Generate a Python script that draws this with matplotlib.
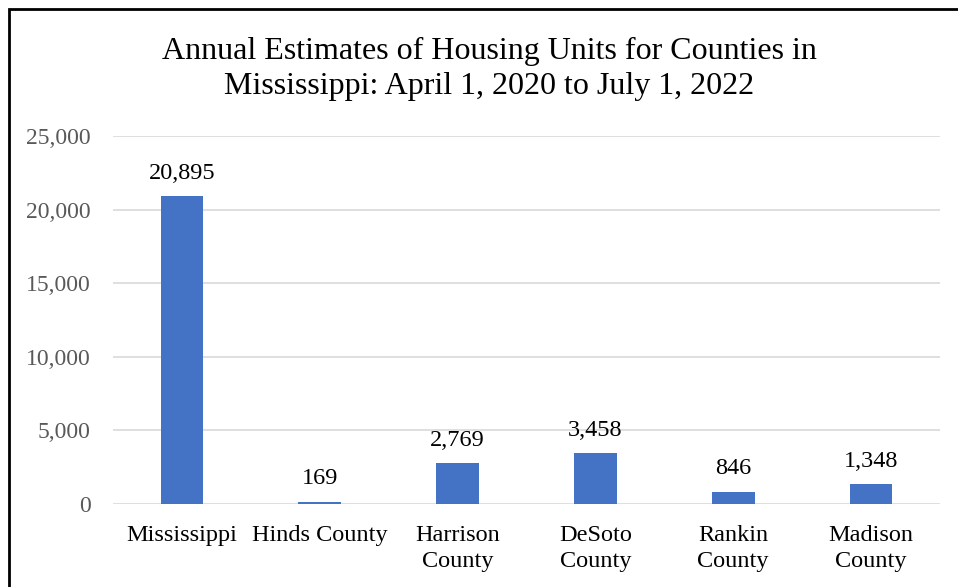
import matplotlib.pyplot as plt
from matplotlib.patches import Rectangle
from matplotlib.ticker import FuncFormatter

# ── Data ──────────────────────────────────────────────────────────────────
categories = ["Mississippi", "Hinds County", "Harrison\nCounty",
              "DeSoto\nCounty", "Rankin\nCounty", "Madison\nCounty"]
units = [20895, 169, 2769, 3458, 846, 1348]
y_ticks = [0, 5000, 10000, 15000, 20000, 25000]

plt.rcParams['font.family'] = ['Liberation Serif', 'DejaVu Serif']

# ── Plot ──────────────────────────────────────────────────────────────────
fig = plt.figure(figsize=(9.58, 5.87), dpi=100)
ax = fig.add_axes([113 / 958, 1 - 504 / 587, 827 / 958, 368 / 587])

x = range(len(categories))
bars = ax.bar(x, units, width=0.31, color='#4472C4', zorder=3)

for b, v in zip(bars, units):
    ax.annotate(f"{v:,}", xy=(b.get_x() + b.get_width() / 2, v),
                xytext=(0, 9), textcoords='offset points',
                ha='center', va='bottom', fontsize=17.5, color='black')

ax.set_xlim(-0.5, len(categories) - 0.5)
ax.set_ylim(0, 25000)
ax.set_yticks(y_ticks)
ax.yaxis.set_major_formatter(FuncFormatter(lambda v, p: f"{int(v):,}"))
ax.set_xticks(list(x))
ax.set_xticklabels(categories, fontsize=17.5, color='black', linespacing=1.3)
ax.tick_params(axis='y', labelsize=17, labelcolor='#595959', length=0, pad=16)
ax.tick_params(axis='x', length=0, pad=15)
ax.grid(axis='y', color='#D9D9D9', linewidth=1.2, zorder=0)
for s in ax.spines.values():
    s.set_visible(False)

fig.text(489 / 958, 1 - 69 / 587,
         "Annual Estimates of Housing Units for Counties in\n"
         "Mississippi: April 1, 2020 to July 1, 2022",
         ha='center', va='center', fontsize=23, linespacing=1.3)

# outer chart frame (cut off at right and bottom)
fig.patches.append(Rectangle((9 / 958, -0.1), 1.2, 1 - 9 / 587 + 0.1,
                             transform=fig.transFigure, fill=False,
                             edgecolor='black', linewidth=2))

plt.savefig("out.png", dpi=100)
